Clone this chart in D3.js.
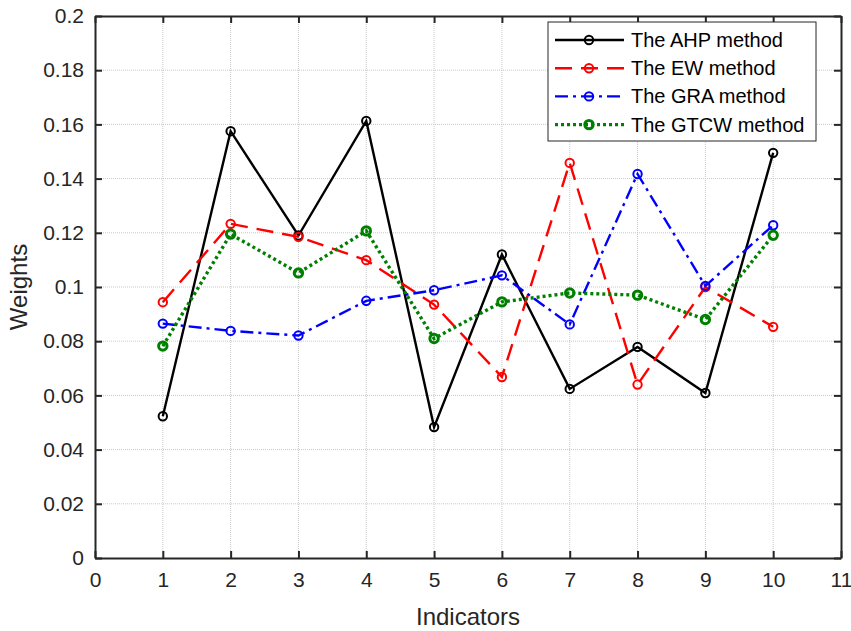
<!DOCTYPE html>
<html>
<head>
<meta charset="utf-8">
<script src="https://cdn.jsdelivr.net/npm/d3@7"></script>
<style>
  body { margin: 0; background: #fff; }
  text { font-family: "Liberation Sans", Arial, sans-serif; }
</style>
</head>
<body>
<div id="chart"></div>
<script>
// indicator numbers and weights
const indicators = [1, 2, 3, 4, 5, 6, 7, 8, 9, 10];
const ahp  = [0.0523, 0.1575, 0.1190, 0.1613, 0.0483, 0.1120, 0.0624, 0.0779, 0.0609, 0.1495];
const ew   = [0.0944, 0.1233, 0.1185, 0.1099, 0.0935, 0.0668, 0.1458, 0.0640, 0.1000, 0.0853];
const gra  = [0.0865, 0.0838, 0.0821, 0.0949, 0.0988, 0.1043, 0.0862, 0.1417, 0.1004, 0.1228];
const gtcw = [0.0782, 0.1195, 0.1052, 0.1207, 0.0810, 0.0945, 0.0978, 0.0970, 0.0880, 0.1191];
const xTicks = [0, 1, 2, 3, 4, 5, 6, 7, 8, 9, 10, 11];
const yTicks = [0, 0.02, 0.04, 0.06, 0.08, 0.1, 0.12, 0.14, 0.16, 0.18, 0.2];

const series = [
  {name: "The AHP method",  vals: ahp,  color: "#000000", dash: null,       w: 2.4, mw: 2},
  {name: "The EW method",   vals: ew,   color: "#ff0000", dash: "17,9",     w: 2.4, mw: 2},
  {name: "The GRA method",  vals: gra,  color: "#0000ff", dash: "13,5,3,5", w: 2.4, mw: 2},
  {name: "The GTCW method", vals: gtcw, color: "#008000", dash: "3,3",      w: 3.4, mw: 3}
];

const W = 851, H = 631;
const margin = {top: 16, right: 10, bottom: 73, left: 95};
const iw = W - margin.left - margin.right;
const ih = H - margin.top - margin.bottom;

const svg = d3.select("#chart").append("svg")
  .attr("width", W).attr("height", H);
const g = svg.append("g")
  .attr("transform", "translate(" + margin.left + "," + margin.top + ")");

const x = d3.scaleLinear().domain([0, 11]).range([0, iw]);
const y = d3.scaleLinear().domain([0, 0.2]).range([ih, 0]);

// grid
g.append("g").selectAll("line").data(xTicks.slice(1, -1)).enter().append("line")
  .attr("x1", d => x(d)).attr("x2", d => x(d)).attr("y1", 0).attr("y2", ih)
  .attr("stroke", "#c8c8c8").attr("stroke-width", 1).attr("stroke-dasharray", "1,1");
g.append("g").selectAll("line").data(yTicks.slice(1, -1)).enter().append("line")
  .attr("y1", d => y(d)).attr("y2", d => y(d)).attr("x1", 0).attr("x2", iw)
  .attr("stroke", "#c8c8c8").attr("stroke-width", 1).attr("stroke-dasharray", "1,1");

// axes with inward ticks
const fmtY = d => d === 0 ? "0" : d3.format("")(+d.toFixed(2));
const xAxis = g.append("g").attr("transform", "translate(0," + ih + ")")
  .call(d3.axisBottom(x).tickValues(xTicks).tickSizeInner(-7).tickSizeOuter(0).tickPadding(14));
const yAxis = g.append("g")
  .call(d3.axisLeft(y).tickValues(yTicks).tickFormat(fmtY).tickSizeInner(-7).tickSizeOuter(0).tickPadding(11));
const xTop = g.append("g")
  .call(d3.axisTop(x).tickValues(xTicks).tickSizeInner(-7).tickSizeOuter(0).tickFormat(""));
const yRight = g.append("g").attr("transform", "translate(" + iw + ",0)")
  .call(d3.axisRight(y).tickValues(yTicks).tickSizeInner(-7).tickSizeOuter(0).tickFormat(""));
[xAxis, yAxis, xTop, yRight].forEach(a => {
  a.select(".domain").attr("stroke", "#262626").attr("stroke-width", 2);
  a.selectAll(".tick line").attr("stroke", "#262626").attr("stroke-width", 2);
  a.selectAll(".tick text").attr("fill", "#262626").style("font-size", "21px")
    .style("font-family", "'Liberation Sans', Arial, sans-serif");
});

// lines and markers
const line = d3.line().x((d, i) => x(indicators[i])).y(d => y(d));
series.forEach(s => {
  g.append("path").datum(s.vals)
    .attr("fill", "none").attr("stroke", s.color).attr("stroke-width", s.w)
    .attr("stroke-dasharray", s.dash).attr("d", line);
  g.append("g").selectAll("circle").data(s.vals).enter().append("circle")
    .attr("cx", (d, i) => x(indicators[i])).attr("cy", d => y(d))
    .attr("r", 4.2)
    .attr("fill", "none").attr("stroke", s.color).attr("stroke-width", s.mw);
});

// legend
const lg = svg.append("g").attr("transform", "translate(548,22)");
lg.append("rect").attr("width", 268).attr("height", 119)
  .attr("fill", "#fff").attr("stroke", "#262626").attr("stroke-width", 1);
series.forEach((s, i) => {
  const yy = 18 + i * 28.2;
  lg.append("line").attr("x1", 7).attr("x2", 76).attr("y1", yy).attr("y2", yy)
    .attr("stroke", s.color).attr("stroke-width", s.w).attr("stroke-dasharray", s.dash);
  lg.append("circle").attr("cx", 41).attr("cy", yy).attr("r", 4.2)
    .attr("fill", "none").attr("stroke", s.color).attr("stroke-width", s.mw);
  lg.append("text").attr("x", 83).attr("y", yy + 7).attr("fill", "#000")
    .style("font-size", "20px").text(s.name);
});

// axis titles
svg.append("text").attr("x", margin.left + iw / 2).attr("y", 625)
  .attr("text-anchor", "middle").attr("fill", "#262626").style("font-size", "24px").text("Indicators");
svg.append("text").attr("transform", "translate(27," + (margin.top + ih / 2) + ") rotate(-90)")
  .attr("text-anchor", "middle").attr("fill", "#262626").style("font-size", "24px").text("Weights");
</script>
</body>
</html>
